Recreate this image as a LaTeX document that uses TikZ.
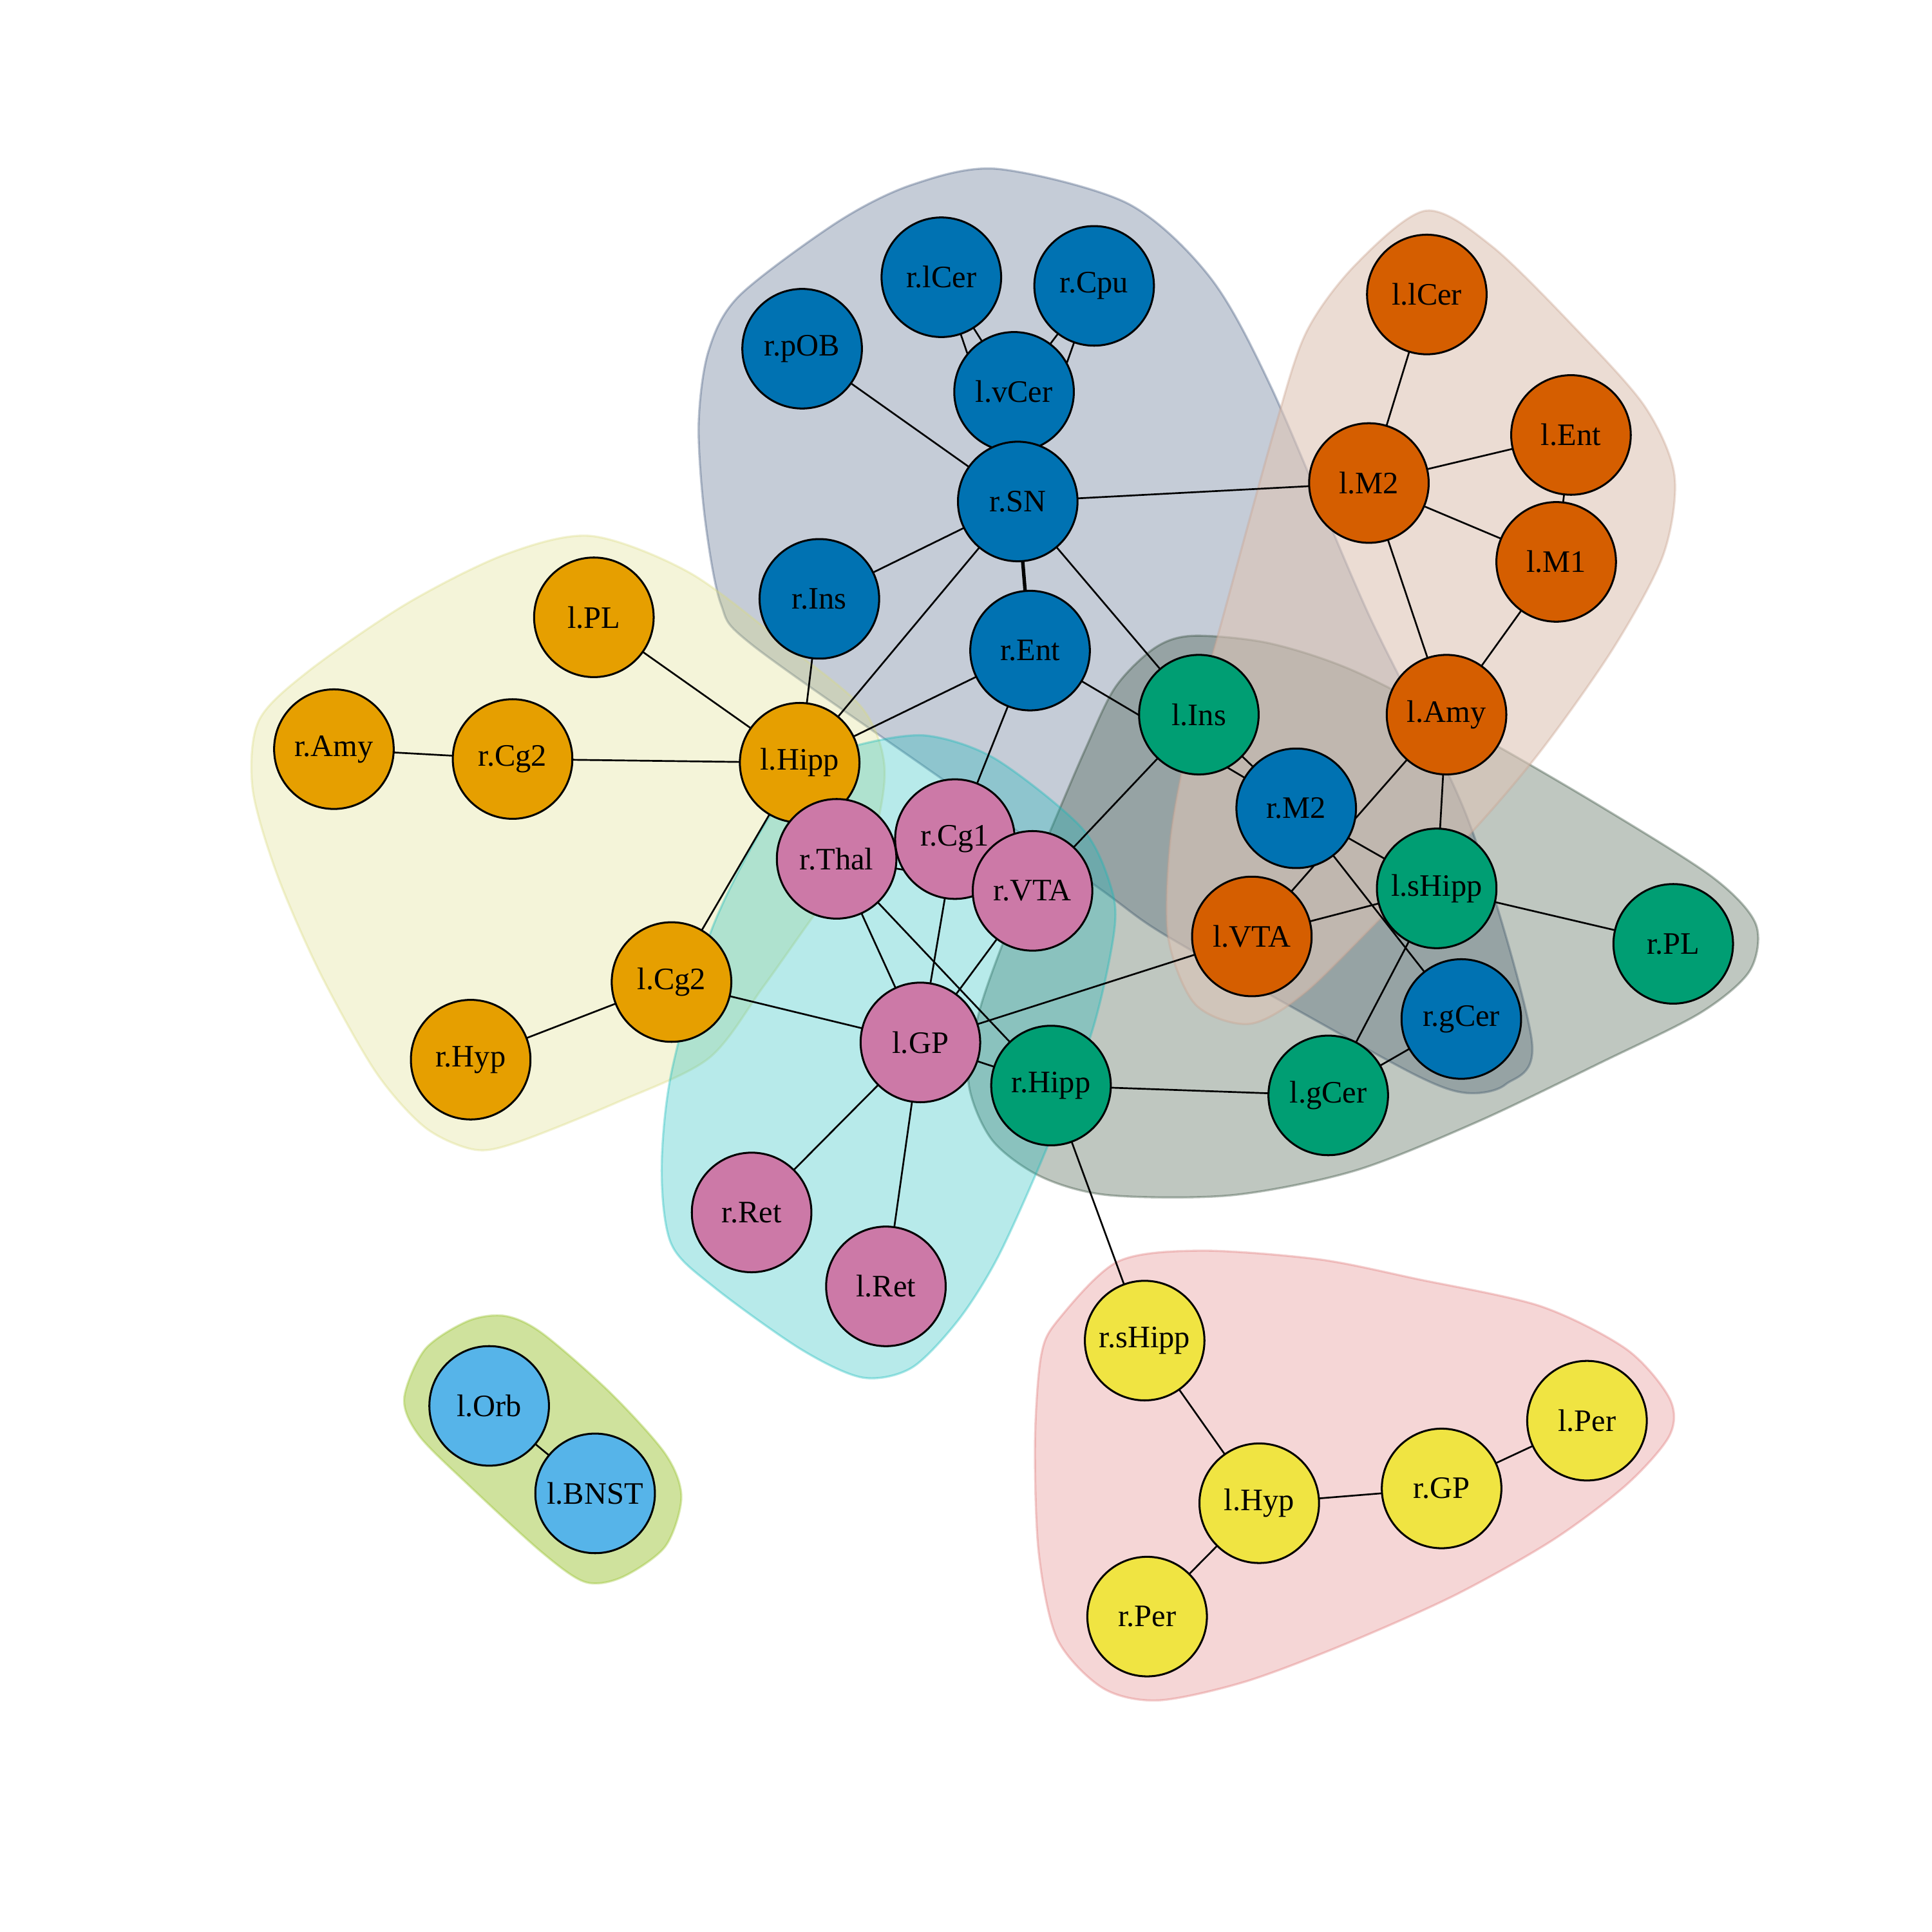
\documentclass[tikz,border=0pt]{standalone}
\usepackage{fontspec}
\setmainfont{Liberation Serif}
\usepackage{tikz}
\usetikzlibrary{backgrounds}
\definecolor{vblue}{HTML}{0072B2}
\definecolor{vorange}{HTML}{D55E00}
\definecolor{vgold}{HTML}{E69F00}
\definecolor{vpink}{HTML}{CC79A7}
\definecolor{vgreen}{HTML}{009E73}
\definecolor{vyellow}{HTML}{F0E442}
\definecolor{vsky}{HTML}{56B4E9}
\definecolor{hblue}{RGB}{62,85,122}
\definecolor{horange}{RGB}{221,196,182}
\definecolor{horangeline}{RGB}{200,160,140}
\definecolor{hgold}{RGB}{218,218,128}
\definecolor{hcyan}{RGB}{18,185,185}
\definecolor{hgreen}{RGB}{42,68,48}
\definecolor{hpink}{RGB}{222,118,118}
\definecolor{holive}{RGB}{148,191,37}
\tikzset{
  vertex/.style = {circle, draw=black, line width=0.45pt, minimum size=0.97cm,
                   inner sep=0pt, font=\fontsize{7.2}{8}\selectfont},
  nblue/.style   = {vertex, fill=vblue},
  norange/.style = {vertex, fill=vorange},
  ngold/.style   = {vertex, fill=vgold},
  npink/.style   = {vertex, fill=vpink},
  ngreen/.style  = {vertex, fill=vgreen},
  nyellow/.style = {vertex, fill=vyellow},
  nsky/.style    = {vertex, fill=vsky},
  hull/.style    = {fill opacity=0.3, draw opacity=0.35, line width=0.5pt},
  link/.style    = {line width=0.4pt, black},
}

\begin{document}
\begin{tikzpicture}[x=0.01cm, y=-0.01cm]
  \useasboundingbox (0,0) rectangle (1568,1568);

  % vertices
  \node[nblue]   (rlCer)  at (764,225)   {r.lCer};
  \node[nblue]   (rCpu)   at (888,232)   {r.Cpu};
  \node[nblue]   (rpOB)   at (651,283)   {r.pOB};
  \node[nblue]   (lvCer)  at (823,318)   {l.vCer};
  \node[nblue]   (rSN)    at (826,407)   {r.SN};
  \node[nblue]   (rIns)   at (665,486)   {r.Ins};
  \node[nblue]   (rEnt)   at (836,528)   {r.Ent};
  \node[norange] (llCer)  at (1158,239)  {l.lCer};
  \node[norange] (lEnt)   at (1275,353)  {l.Ent};
  \node[norange] (lM2)    at (1111,392)  {l.M2};
  \node[norange] (lM1)    at (1263,456)  {l.M1};
  \node[norange] (lAmy)   at (1174,580)  {l.Amy};
  \node[ngold]   (lPL)    at (482,501)   {l.PL};
  \node[ngold]   (rAmy)   at (271,608)   {r.Amy};
  \node[ngold]   (rCg2)   at (416,616)   {r.Cg2};
  \node[ngold]   (lHipp)  at (649,619)   {l.Hipp};
  \node[ngold]   (lCg2)   at (545,797)   {l.Cg2};
  \node[ngold]   (rHyp)   at (382,860)   {r.Hyp};
  \node[npink]   (rCg1)   at (775,681)   {r.Cg1};
  \node[npink]   (rThal)  at (679,697)   {r.Thal};
  \node[npink]   (rVTA)   at (838,723)   {r.VTA};
  \node[npink]   (lGP)    at (747,846)   {l.GP};
  \node[npink]   (rRet)   at (610,984)   {r.Ret};
  \node[npink]   (lRet)   at (719,1044)  {l.Ret};
  \node[ngreen]  (lIns)   at (973,580)   {l.Ins};
  \node[nblue]   (rM2)    at (1052,656)  {r.M2};
  \node[norange] (lVTA)   at (1016,760)  {l.VTA};
  \node[ngreen]  (lsHipp) at (1166,721)  {l.sHipp};
  \node[nblue]   (rgCer)  at (1186,827)  {r.gCer};
  \node[ngreen]  (rPL)    at (1358,766)  {r.PL};
  \node[ngreen]  (rHipp)  at (853,881)   {r.Hipp};
  \node[ngreen]  (lgCer)  at (1078,889)  {l.gCer};
  \node[nyellow] (rsHipp) at (929,1088)  {r.sHipp};
  \node[nyellow] (lHyp)   at (1022,1220) {l.Hyp};
  \node[nyellow] (rGP)    at (1170,1208) {r.GP};
  \node[nyellow] (lPer)   at (1288,1153) {l.Per};
  \node[nyellow] (rPer)   at (931,1312)  {r.Per};
  \node[nsky]    (lOrb)   at (397,1141)  {l.Orb};
  \node[nsky]    (lBNST)  at (483,1212)  {l.BNST};

  \begin{scope}[on background layer]
  % community hulls
  \filldraw[hull, fill=hblue, draw=hblue] plot[smooth cycle] coordinates {
    (809,137) (915,165) (982,225) (1032,315) (1110,497) (1191,664) (1243,843)
    (1222,880) (1190,887) (1150,873) (1048,817) (941,756) (888,718) (750,622)
    (610,523) (585,490) (572,420) (567,345) (575,285) (600,240) (680,180) (740,150)};
  \filldraw[hull, fill=hgold, draw=hgold] plot[smooth cycle] coordinates {
    (480,435) (560,465) (640,525) (700,575) (718,625) (705,690) (668,733) (620,800)
    (575,859) (500,895) (420,927) (385,933) (345,915) (305,870) (260,790) (225,710)
    (205,640) (210,585) (250,545) (330,490) (410,450)};
  \filldraw[hull, fill=hgreen, draw=hgreen] plot[smooth cycle] coordinates {
    (968,516) (1030,522) (1100,545) (1200,597) (1300,655) (1390,712) (1425,750)
    (1420,788) (1380,822) (1300,862) (1200,910) (1100,950) (1000,970) (900,970)
    (845,955) (805,925) (786,878) (795,820) (820,750) (850,680) (880,610) (905,558)
    (937,526)};
  \filldraw[hull, fill=hcyan, draw=hcyan] plot[smooth cycle] coordinates {
    (752,597) (808,616) (878,672) (902,721) (904,758) (886,838) (847,938) (810,1020)
    (778,1071) (740,1110) (700,1118) (650,1095) (580,1045) (545,1010) (537,950)
    (545,870) (577,756) (620,670) (660,620) (699,604)};
  \filldraw[hull, fill=horange, draw=horangeline, fill opacity=0.6] plot[smooth cycle] coordinates {
    (1157,171) (1211,200) (1280,268) (1335,330) (1359,386) (1350,450) (1310,525)
    (1250,610) (1190,680) (1128,738) (1060,805) (1014,831) (970,815) (948,760)
    (950,680) (965,600) (990,510) (1034,350) (1060,270) (1100,215)};
  \filldraw[hull, fill=hpink, draw=hpink] plot[smooth cycle] coordinates {
    (907,1024) (974,1015) (1070,1022) (1150,1038) (1250,1060) (1320,1095) (1355,1135)
    (1355,1165) (1320,1205) (1260,1250) (1180,1295) (1090,1335) (1010,1365) (940,1380)
    (895,1370) (858,1330) (843,1260) (840,1170) (845,1100) (859,1071)};
  \filldraw[hull, fill=holive, draw=holive, fill opacity=0.45] plot[smooth cycle] coordinates {
    (410,1068) (440,1082) (495,1130) (540,1180) (553,1215) (540,1255) (505,1280)
    (475,1284) (440,1260) (380,1205) (340,1165) (328,1135) (345,1095) (380,1072)};

  % links
  \foreach \a/\b in {rlCer/lvCer, rlCer/rSN, rCpu/lvCer, rCpu/rSN, rpOB/rSN,
      rSN/rIns, rSN/lHipp, rSN/lIns, rSN/lM2, rIns/lHipp, rEnt/lHipp, rEnt/rM2,
      rEnt/rCg1, llCer/lM2, lM2/lEnt, lEnt/lM1, lM2/lM1, lM2/lAmy, lM1/lAmy,
      lAmy/lsHipp, lAmy/lVTA, lIns/rM2, lIns/rVTA, rM2/lsHipp, rM2/rgCer,
      lsHipp/rPL, lsHipp/lVTA, lsHipp/lgCer, rgCer/lgCer, lVTA/lGP, lPL/lHipp,
      rAmy/rCg2, rCg2/lHipp, lHipp/lCg2, rHyp/lCg2, lCg2/lGP, rThal/lGP,
      rThal/rHipp, rThal/rVTA, rCg1/lGP, rVTA/lGP, lGP/rHipp, lGP/rRet, lGP/lRet,
      rHipp/lgCer, rHipp/rsHipp, rsHipp/lHyp, lHyp/rGP, rGP/lPer, lHyp/rPer,
      lOrb/lBNST}
    \draw[link] (\a.center) -- (\b.center);
  \draw[link, line width=0.8pt] (rSN.center) -- (rEnt.center);
  \end{scope}
\end{tikzpicture}
\end{document}
